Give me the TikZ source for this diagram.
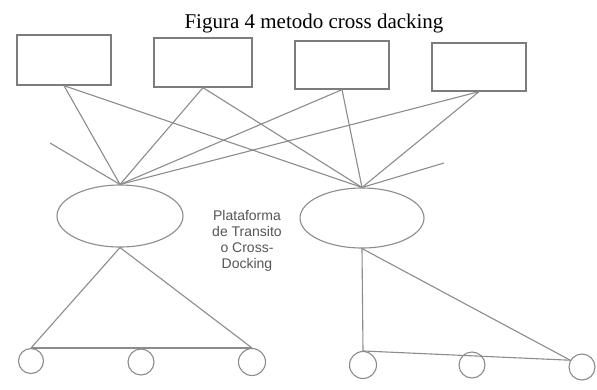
\documentclass[tikz,border=0pt]{standalone}
\usepackage{fontspec}
\setmainfont{Liberation Serif}
\newfontfamily\labelfont{Liberation Sans}
\usetikzlibrary{shapes.geometric}
\definecolor{linegray}{HTML}{8C8C8C}
\definecolor{boxgray}{HTML}{7C7C7C}
\definecolor{textgray}{HTML}{555555}
\begin{document}
\begin{tikzpicture}[x=1pt,y=-1pt,
  box/.style={draw=boxgray,line width=1.3pt,rectangle,inner sep=0pt},
  plat/.style={draw=linegray,line width=1.1pt,ellipse,inner sep=0pt},
  shop/.style={draw=linegray,line width=1.1pt,circle,inner sep=0pt},
  ln/.style={draw=linegray,line width=1.1pt}]
\fill[white] (0,0) rectangle (597,389);
\useasboundingbox (0,0) rectangle (597,389);
\node[anchor=base,font=\fontsize{21}{24}\selectfont] (title) at (314,28) {Figura 4 metodo cross dacking};
\node[box,minimum width=94pt,minimum height=50pt] (b1) at (64,60) {};
\node[box,minimum width=98pt,minimum height=49pt] (b2) at (203,62.5) {};
\node[box,minimum width=94pt,minimum height=48pt] (b3) at (342,65) {};
\node[box,minimum width=94pt,minimum height=48pt] (b4) at (479,67) {};
\node[plat,minimum width=126pt,minimum height=62pt] (e1) at (120,216) {};
\node[plat,minimum width=124pt,minimum height=60pt] (e2) at (362,218) {};
\node[align=center,text=textgray,font=\labelfont\fontsize{14}{16}\selectfont] (lab) at (247,241) {Plataforma\\de Transito\\o Cross-\\Docking};
\node[shop,minimum size=25pt] (c1) at (31,361) {};
\node[shop,minimum size=26pt] (c2) at (141,362) {};
\node[shop,minimum size=27pt] (c3) at (252,362) {};
\node[shop,minimum size=27pt] (c4) at (363,365) {};
\node[shop,minimum size=26pt] (c5) at (472,365) {};
\node[shop,minimum size=26pt] (c6) at (582,367) {};
\coordinate (fl) at (50,143);
\coordinate (fr) at (444,163);
\foreach \b in {b1,b2,b3,b4}{
  \draw[ln] (\b.south) -- (e1.north);
  \draw[ln] (\b.south) -- (e2.north);
}
\draw[ln] (fl) -- (e1.north);
\draw[ln] (fr) -- (e2.north);
\draw[ln] (c1.north) -- (e1.south) -- (c3.north);
\draw[ln] (c1.north) -- (c3.north);
\draw[ln] (c4.north) -- (e2.south) -- (c6.150);
\draw[ln] (c4.north) -- (c6.150);
\end{tikzpicture}
\end{document}
